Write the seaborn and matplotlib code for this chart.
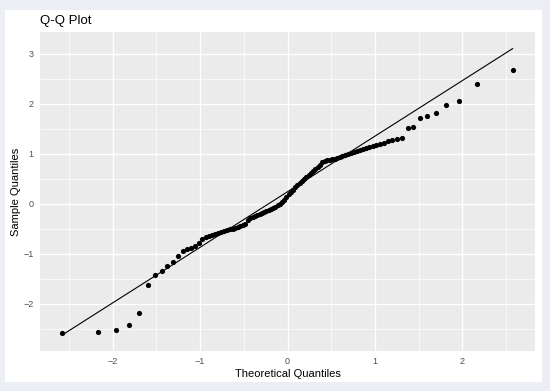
"""
Normal Q-Q plot of a 100-value sample, drawn in a ggplot-like style.
"""

from statistics import NormalDist

import matplotlib
matplotlib.use("Agg")
import matplotlib.pyplot as plt
import numpy as np
import pandas as pd
import seaborn as sns
from matplotlib.patches import Rectangle


# sorted sample values
SAMPLE = [
    -2.58, -2.56, -2.53, -2.43, -2.19, -1.62, -1.43, -1.35, -1.24, -1.17,
    -1.05, -0.95, -0.91, -0.88, -0.84, -0.78, -0.70, -0.67, -0.65, -0.63,
    -0.61, -0.59, -0.57, -0.55, -0.53, -0.51, -0.50, -0.49, -0.47, -0.45,
    -0.43, -0.40, -0.32, -0.29, -0.27, -0.25, -0.23, -0.21, -0.19, -0.17,
    -0.15, -0.13, -0.11, -0.08, -0.06, -0.03, 0.00, 0.04, 0.08, 0.13,
    0.19, 0.24, 0.28, 0.33, 0.37, 0.41, 0.45, 0.49, 0.53, 0.57,
    0.62, 0.66, 0.70, 0.74, 0.78, 0.83, 0.86, 0.87, 0.88, 0.89,
    0.90, 0.92, 0.94, 0.96, 0.98, 1.00, 1.02, 1.04, 1.06, 1.08,
    1.10, 1.12, 1.14, 1.16, 1.18, 1.20, 1.22, 1.25, 1.27, 1.30,
    1.31, 1.52, 1.54, 1.71, 1.75, 1.81, 1.98, 2.05, 2.39, 2.67,
]
X_TICKS = [-2, -1, 0, 1, 2]
Y_TICKS = [-2, -1, 0, 1, 2, 3]
TITLE = "Q-Q Plot"
X_LABEL = "Theoretical Quantiles"
Y_LABEL = "Sample Quantiles"

OUTER_BG = "#EBEFF3"
PANEL_BG = "#EBEBEB"
TEXT_GREY = "#4D4D4D"


def qq_frame(sample: list[float]) -> pd.DataFrame:
    # theoretical quantiles the same way R's ppoints() does it
    n = len(sample)
    a = 3 / 8 if n <= 10 else 0.5
    probs = [(i + 1 - a) / (n + 1 - 2 * a) for i in range(n)]
    theo = [NormalDist().inv_cdf(p) for p in probs]
    return pd.DataFrame({"theoretical": theo, "sample": sorted(sample)})


def qq_line(df: pd.DataFrame) -> pd.DataFrame:
    # line through the first and third quartiles (like stat_qq_line)
    q_s = np.quantile(df["sample"], [0.25, 0.75])
    q_t = [NormalDist().inv_cdf(p) for p in (0.25, 0.75)]
    slope = (q_s[1] - q_s[0]) / (q_t[1] - q_t[0])
    intercept = q_s[0] - slope * q_t[0]
    xs = [df["theoretical"].min(), df["theoretical"].max()]
    return pd.DataFrame({"theoretical": xs, "sample": [intercept + slope * x for x in xs]})


def main():
    sns.set_style("darkgrid", {
        "axes.facecolor": PANEL_BG,
        "grid.color": "white",
    })
    plt.rcParams["font.family"] = ["Liberation Sans", "DejaVu Sans"]

    df = qq_frame(SAMPLE)
    line = qq_line(df)

    W, H = 550, 391
    fig = plt.figure(figsize=(W / 100, H / 100), dpi=100, facecolor=OUTER_BG)
    # white plot card, kept behind the axes
    fig.patches.append(Rectangle(
        (5 / W, 1 - 382 / H), 537 / W, 372 / H,
        transform=fig.transFigure, facecolor="white", edgecolor="none", zorder=-1,
    ))
    ax = fig.add_axes([40 / W, 1 - 351 / H, 495 / W, 319 / H])
    ax.set_zorder(1)

    sns.lineplot(data=line, x="theoretical", y="sample", color="black",
                 linewidth=0.8, ax=ax, zorder=2)
    sns.scatterplot(data=df, x="theoretical", y="sample", color="black",
                    s=14, linewidth=0, ax=ax, zorder=3)

    ax.set_xlim(-2.83, 2.83)
    ax.set_ylim(-2.95, 3.43)
    ax.set_xticks(X_TICKS)
    ax.set_yticks(Y_TICKS)
    ax.set_xticks([-2.5, -1.5, -0.5, 0.5, 1.5, 2.5], minor=True)
    ax.set_yticks([-2.5, -1.5, -0.5, 0.5, 1.5, 2.5], minor=True)
    ax.grid(which="major", color="white", linewidth=1.0)
    ax.grid(which="minor", color="white", linewidth=0.5)
    ax.tick_params(which="major", length=2.5, width=0.6, color="#333333",
                   labelsize=6.5, labelcolor=TEXT_GREY, pad=2)
    ax.tick_params(which="minor", length=0)
    for side in ax.spines.values():
        side.set_visible(False)

    ax.set_xlabel(X_LABEL, fontsize=8, color="black", labelpad=2)
    ax.set_ylabel(Y_LABEL, fontsize=8, color="black", labelpad=2)
    fig.text(40 / W, 1 - 24 / H, TITLE, fontsize=9.5, color="black",
             ha="left", va="baseline")

    fig.savefig("out.png", dpi=100, facecolor=OUTER_BG)


if __name__ == "__main__":
    main()
